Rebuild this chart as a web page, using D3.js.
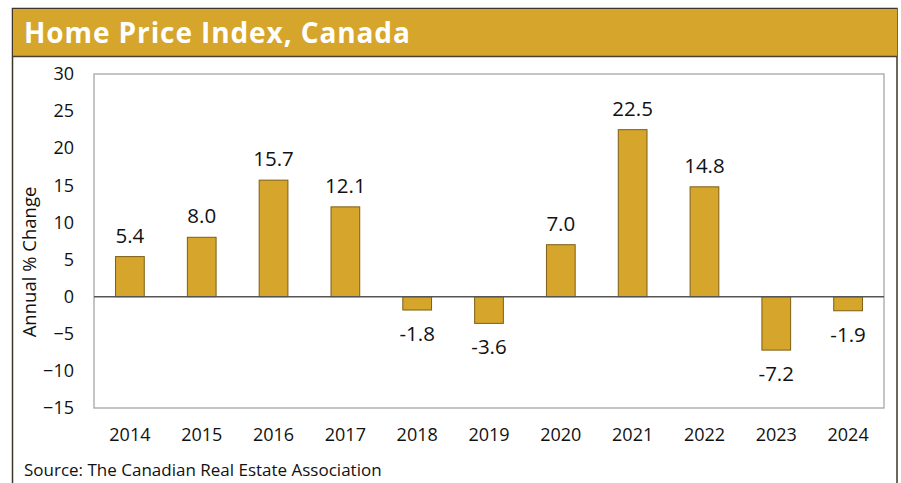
<!DOCTYPE html>
<html><head><meta charset="utf-8">
<script src="https://cdn.jsdelivr.net/npm/d3@7"></script>
<style>body{margin:0;background:#fff;font-family:"Open Sans",sans-serif;}</style>
</head><body><svg id="c" width="901" height="483"></svg>
<script>
const years = ["2014","2015","2016","2017","2018","2019","2020","2021","2022","2023","2024"];
const values = [5.4, 8.0, 15.7, 12.1, -1.8, -3.6, 7.0, 22.5, 14.8, -7.2, -1.9];
const yTicks = [30, 25, 20, 15, 10, 5, 0, -5, -10, -15];
const title = "Home Price Index, Canada";
const yTitle = "Annual % Change";
const source = "Source: The Canadian Real Estate Association";

const svg = d3.select("#c");
const gold = "#D6A52B";
// outer frame and header
svg.append("rect").attr("x",12.5).attr("y",8.5).attr("width",884.5).attr("height",490).attr("fill","#fff").attr("stroke","#3d3628").attr("stroke-width",1.5);
svg.append("rect").attr("x",13).attr("y",9).attr("width",884).attr("height",47).attr("fill",gold);
svg.append("line").attr("x1",13).attr("x2",897).attr("y1",56.5).attr("y2",56.5).attr("stroke","#4a4030").attr("stroke-width",1.5);
svg.append("text").attr("x",24).attr("y",43).attr("fill","#fff").attr("font-size",28).attr("font-weight",700)
  .attr("letter-spacing",0.9).attr("font-family","'Open Sans',sans-serif").text(title);

const L=94, R=884, T=74, B=408;
const x = d3.scaleBand().domain(years).range([L,R]).paddingInner(0.6).paddingOuter(0.3);
const y = d3.scaleLinear().domain([-15,30]).range([B,T]);

svg.append("rect").attr("x",L).attr("y",T).attr("width",R-L).attr("height",B-T).attr("fill","none").attr("stroke","#a6a6a6").attr("stroke-width",1.3);

const yAxis = svg.append("g").attr("transform",`translate(${L},0)`).call(d3.axisLeft(y).tickValues(yTicks).tickSize(0).tickPadding(20));
yAxis.select(".domain").remove();
yAxis.selectAll("text").attr("font-size",18).attr("font-family","'Open Sans',sans-serif").attr("fill","#111");

const xAxis = svg.append("g").attr("transform",`translate(0,${B})`).call(d3.axisBottom(x).tickSize(0).tickPadding(20));
xAxis.select(".domain").remove();
xAxis.selectAll("text").attr("font-size",18).attr("font-family","'Open Sans',sans-serif").attr("fill","#111");

svg.selectAll("rect.bar").data(values).join("rect").attr("class","bar")
  .attr("x",(d,i)=>x(years[i])).attr("width",x.bandwidth())
  .attr("y",d=>y(Math.max(0,d))).attr("height",d=>Math.abs(y(d)-y(0)))
  .attr("fill",gold).attr("stroke","#7d5f14").attr("stroke-width",1);

svg.append("line").attr("x1",L).attr("x2",R).attr("y1",y(0)).attr("y2",y(0)).attr("stroke","#555").attr("stroke-width",1.5);

svg.selectAll("text.lbl").data(values).join("text").attr("class","lbl")
  .attr("x",(d,i)=>x(years[i])+x.bandwidth()/2)
  .attr("y",d=> d>=0 ? y(d)-14 : y(d)+31)
  .attr("text-anchor","middle").attr("font-size",20.5).attr("fill","#111")
  .attr("font-family","'Open Sans',sans-serif").text(d=>d.toFixed(1));

svg.append("text").attr("transform","translate(36,262) rotate(-90)").attr("text-anchor","middle")
  .attr("font-size",18.5).attr("fill","#111").attr("font-family","'Open Sans',sans-serif").text(yTitle);

svg.append("text").attr("x",24).attr("y",476).attr("font-size",17).attr("fill","#111")
  .attr("font-family","'Open Sans',sans-serif").text(source);
</script></body></html>
